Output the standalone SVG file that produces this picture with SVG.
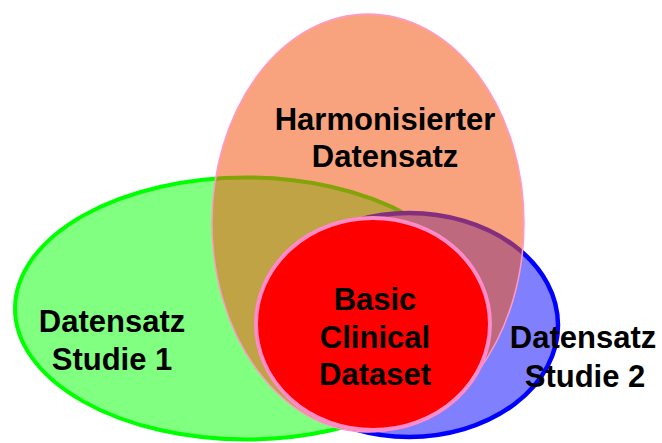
<svg xmlns="http://www.w3.org/2000/svg" width="662" height="443" viewBox="0 0 662 443">
<style>
text{font-family:"Liberation Sans",Arial,sans-serif;font-weight:bold;font-size:31px;fill:#000;text-anchor:middle}
</style>
<rect width="662" height="443" fill="#fff"/>
<g id="studie1">
<ellipse cx="246" cy="308.5" rx="231" ry="131" fill="#80FF80" stroke="#00FF00" stroke-width="4"/>
</g>
<g id="studie2">
<ellipse cx="409" cy="325" rx="149" ry="112" fill="#8080FF" stroke="#0000FF" stroke-width="4.5"/>
</g>
<g id="harmonisiert">
<ellipse cx="368" cy="223" rx="156" ry="209" fill="#F45510" fill-opacity="0.54" stroke="#FF99CC" stroke-width="1.5"/>
</g>
<g id="bcd">
<ellipse cx="373" cy="324" rx="117" ry="106" fill="#FF0000" stroke="#FF8CC8" stroke-width="4"/>
</g>
<g id="connectors"></g>
<g id="labels">
<text x="385" y="130">Harmonisierter</text>
<text x="385" y="167">Datensatz</text>
<text x="112" y="332">Datensatz</text>
<text x="112" y="370">Studie 1</text>
<text x="375" y="310">Basic</text>
<text x="375" y="348">Clinical</text>
<text x="375" y="385">Dataset</text>
<text x="583" y="348">Datensatz</text>
<text x="585" y="387">Studie 2</text>
</g>
</svg>
